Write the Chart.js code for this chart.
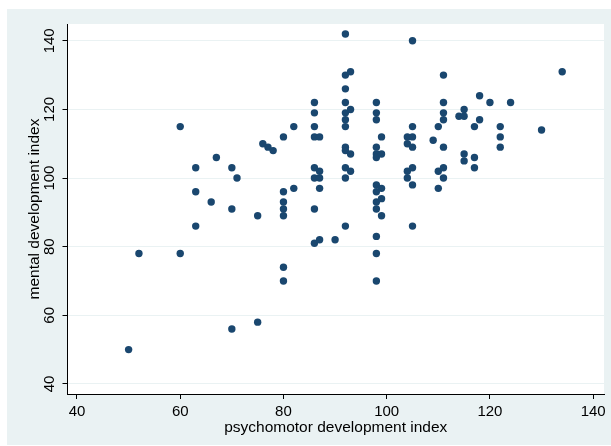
<!DOCTYPE html>
<html>
<head>
<meta charset="utf-8">
<style>
  html, body { margin: 0; padding: 0; background: #fff; }
  #wrap { width: 611px; height: 446px; }
</style>
<script src="https://cdn.jsdelivr.net/npm/chart.js@4/dist/chart.umd.min.js"></script>
</head>
<body>
<div id="wrap"><canvas id="myChart" width="611" height="446"></canvas></div>
<script>
// data, one array per column
var psychomotor = [
  50, 52, 60, 60, 63, 63, 63, 66, 67, 70, 70, 70, 71, 75, 75, 76, 77, 78,
  80, 80, 80, 80, 80, 80, 80, 82, 82,
  86, 86, 86, 86, 86, 86, 86, 86,
  87, 87, 87, 87, 87, 90,
  92, 92, 92, 92, 92, 92, 92, 92, 92, 92, 92, 92,
  93, 93, 93, 93,
  98, 98, 98, 98, 98, 98, 98, 98, 98, 98, 98, 98, 98,
  99, 99, 99, 99, 99,
  104, 104, 104, 104,
  105, 105, 105, 105, 105, 105, 105,
  109, 110, 110, 110,
  111, 111, 111, 111, 111, 111, 111,
  114, 115, 115, 115, 115, 117, 117, 117, 118, 118, 120,
  122, 122, 122, 124, 130, 134
];
var mental = [
  50, 78, 115, 78, 103, 96, 86, 93, 106, 103, 91, 56, 100, 89, 58, 110, 109, 108,
  112, 96, 93, 91, 89, 74, 70, 115, 97,
  122, 119, 115, 112, 103, 100, 91, 81,
  112, 102, 100, 97, 82, 82,
  142, 130, 126, 122, 119, 117, 115, 109, 108, 103, 100, 86,
  131, 120, 107, 102,
  122, 119, 117, 109, 107, 106, 98, 96, 93, 91, 83, 78, 70,
  112, 107, 97, 94, 89,
  112, 110, 102, 100,
  140, 115, 112, 109, 103, 98, 86,
  111, 115, 102, 97,
  130, 122, 119, 117, 109, 103, 100,
  118, 120, 118, 107, 105, 115, 106, 103, 124, 117, 122,
  115, 112, 109, 122, 114, 131
];
var xTicks = [40, 60, 80, 100, 120, 140];
var yTicks = [40, 60, 80, 100, 120, 140];

var points = psychomotor.map(function (v, i) { return { x: v, y: mental[i] }; });

var navy = '#1a476f';
var pale = '#eaf2f3';
var font = '"Liberation Sans", Arial, sans-serif';

// stata-like backgrounds + rotated y tick labels
var frame = {
  id: 'frame',
  beforeDraw: function (chart) {
    var c = chart.ctx, a = chart.chartArea;
    c.save();
    c.fillStyle = '#fff';
    c.fillRect(0, 0, chart.width, chart.height);
    c.fillStyle = pale;
    c.fillRect(7, 9, chart.width - 7, 436);
    c.fillStyle = '#fff';
    c.fillRect(a.left, a.top, a.right - a.left, a.bottom - a.top);
    c.restore();
  },
  afterDraw: function (chart) {
    var c = chart.ctx, y = chart.scales.y, a = chart.chartArea;
    c.save();
    c.fillStyle = '#000';
    c.font = '15px ' + font;
    c.textAlign = 'center';
    c.textBaseline = 'middle';
    yTicks.forEach(function (t) {
      c.save();
      c.translate(a.left - 18, y.getPixelForValue(t));
      c.rotate(-Math.PI / 2);
      c.fillText(String(t), 0, 0);
      c.restore();
    });
    c.restore();
  }
};

var ctx = document.getElementById('myChart').getContext('2d');

var myChart = new Chart(ctx, {
  type: 'scatter',
  data: {
    datasets: [{
      data: points,
      backgroundColor: navy,
      borderWidth: 0,
      pointRadius: 3.7,
      pointHoverRadius: 3.7
    }]
  },
  options: {
    responsive: false,
    animation: false,
    layout: { padding: { left: 0, right: 7, top: 24, bottom: 0 } },
    plugins: { legend: { display: false }, tooltip: { enabled: false } },
    scales: {
      x: {
        type: 'linear',
        min: 38.16,
        max: 142.1,
        afterBuildTicks: function (s) { s.ticks = xTicks.map(function (v) { return { value: v }; }); },
        afterFit: function (s) { s.height = 52; },
        grid: { drawOnChartArea: false, tickLength: 5, tickColor: '#000' },
        border: { display: true, color: '#000', width: 1 },
        ticks: { color: '#000', font: { family: font, size: 15 }, padding: 4, maxRotation: 0 },
        title: {
          display: true,
          text: 'psychomotor development index',
          color: '#000',
          font: { family: font, size: 15.5 },
          padding: { top: 0, bottom: 9 }
        }
      },
      y: {
        type: 'linear',
        min: 37.06,
        max: 144.9,
        afterBuildTicks: function (s) { s.ticks = yTicks.map(function (v) { return { value: v }; }); },
        afterFit: function (s) { s.width = 67.5; },
        grid: { color: pale, lineWidth: 1, tickLength: 5, tickColor: '#000' },
        border: { display: true, color: '#000', width: 1 },
        ticks: { display: false },
        title: {
          display: true,
          text: 'mental development index',
          color: '#000',
          font: { family: font, size: 15.5 },
          padding: { top: 25, bottom: 0 }
        }
      }
    }
  },
  plugins: [frame]
});
</script>
</body>
</html>
